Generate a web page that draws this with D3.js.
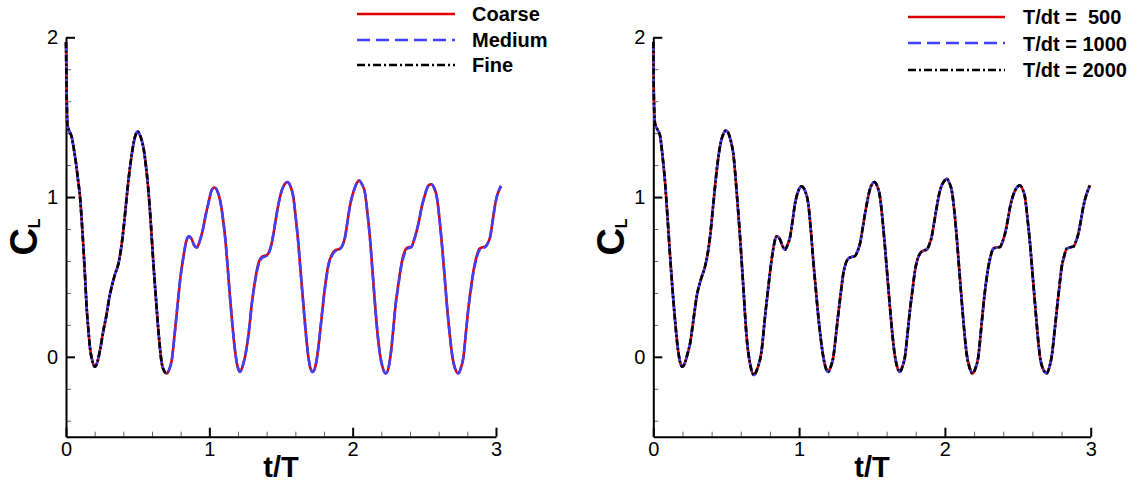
<!DOCTYPE html>
<html><head><meta charset="utf-8">
<script src="https://cdn.jsdelivr.net/npm/d3@7"></script>
<style>
body{margin:0;background:#fff;}
svg{display:block;font-family:Arial,"Liberation Sans",sans-serif;}
</style>
</head><body>
<svg id="c" width="1141" height="483"></svg>
<script>
// ---------------- data (t/T, C_L) ----------------
const xTicksMajor = [0, 1, 2, 3];
const xTicksMinor = [0.2,0.4,0.6,0.8,1.2,1.4,1.6,1.8,2.2,2.4,2.6,2.8];
const yTicksMajor = [0, 1, 2];
const yTicksMinor = [-0.4,-0.2,0.2,0.4,0.6,0.8,1.2,1.4,1.6,1.8];
const xDomain = [0, 3];
const yDomain = [-0.5, 2];

const legendLeft  = ["Coarse", "Medium", "Fine"];
const legendRight = ["T/dt =  500", "T/dt = 1000", "T/dt = 2000"];

// Left panel: grid study
const coarse = [[0,1.97],[0.005,1.62],[0.01,1.45],[0.025,1.41],[0.04,1.375],[0.055,1.30],[0.07,1.21],[0.085,1.10],[0.098,1.0],[0.11,0.85],[0.121,0.69],[0.133,0.50],[0.144,0.31],[0.156,0.17],[0.167,0.06],[0.185,-0.03],[0.202,-0.0625],[0.218,-0.035],[0.237,0.04],[0.26,0.16],[0.284,0.27],[0.30,0.36],[0.319,0.44],[0.343,0.52],[0.365,0.58],[0.383,0.67],[0.40,0.79],[0.418,0.95],[0.435,1.10],[0.453,1.23],[0.47,1.33],[0.486,1.39],[0.50,1.41],[0.515,1.39],[0.527,1.36],[0.54,1.31],[0.557,1.20],[0.575,1.04],[0.593,0.82],[0.61,0.58],[0.627,0.37],[0.644,0.17],[0.668,-0.04],[0.685,-0.09],[0.703,-0.104],[0.72,-0.08],[0.738,-0.02],[0.76,0.16],[0.784,0.375],[0.80,0.51],[0.819,0.625],[0.838,0.72],[0.858,0.754],[0.875,0.74],[0.893,0.70],[0.912,0.684],[0.935,0.73],[0.958,0.81],[0.975,0.89],[0.993,0.96],[1.015,1.04],[1.035,1.06],[1.055,1.04],[1.075,0.98],[1.093,0.88],[1.11,0.75],[1.127,0.57],[1.144,0.375],[1.162,0.19],[1.179,0.04],[1.197,-0.06],[1.214,-0.094],[1.235,-0.05],[1.261,0.06],[1.28,0.19],[1.296,0.33],[1.313,0.44],[1.331,0.54],[1.348,0.60],[1.366,0.625],[1.383,0.632],[1.40,0.636],[1.418,0.66],[1.435,0.71],[1.453,0.80],[1.47,0.896],[1.488,0.98],[1.505,1.04],[1.525,1.08],[1.544,1.094],[1.565,1.07],[1.586,1.0],[1.603,0.87],[1.621,0.71],[1.638,0.52],[1.656,0.33],[1.673,0.15],[1.691,0.0],[1.705,-0.07],[1.721,-0.094],[1.74,-0.06],[1.761,0.06],[1.778,0.20],[1.796,0.354],[1.813,0.48],[1.831,0.58],[1.855,0.64],[1.877,0.667],[1.895,0.672],[1.912,0.677],[1.93,0.70],[1.947,0.75],[1.963,0.84],[1.98,0.94],[1.998,1.01],[2.016,1.06],[2.03,1.09],[2.045,1.104],[2.065,1.08],[2.087,1.02],[2.103,0.90],[2.12,0.75],[2.138,0.54],[2.156,0.33],[2.173,0.15],[2.19,0.02],[2.21,-0.07],[2.231,-0.104],[2.25,-0.07],[2.266,0.02],[2.283,0.17],[2.30,0.33],[2.318,0.45],[2.336,0.56],[2.355,0.64],[2.373,0.677],[2.39,0.685],[2.41,0.69],[2.428,0.73],[2.447,0.79],[2.465,0.86],[2.482,0.94],[2.50,1.00],[2.517,1.05],[2.532,1.075],[2.547,1.08],[2.567,1.06],[2.587,1.0],[2.605,0.87],[2.622,0.71],[2.64,0.52],[2.657,0.33],[2.676,0.15],[2.696,0.0],[2.717,-0.08],[2.738,-0.104],[2.755,-0.07],[2.773,0.0],[2.79,0.15],[2.808,0.31],[2.825,0.43],[2.843,0.54],[2.865,0.63],[2.885,0.677],[2.905,0.686],[2.924,0.69],[2.942,0.71],[2.959,0.75],[2.975,0.84],[2.99,0.93],[3.005,1.0],[3.02,1.04],[3.035,1.07]];

const medium = [[0,1.97],[0.005,1.62],[0.01,1.45],[0.025,1.41],[0.04,1.375],[0.055,1.30],[0.07,1.21],[0.085,1.10],[0.098,1.0],[0.11,0.85],[0.121,0.69],[0.133,0.50],[0.144,0.31],[0.156,0.17],[0.167,0.06],[0.185,-0.03],[0.202,-0.0625],[0.218,-0.035],[0.237,0.04],[0.26,0.16],[0.284,0.27],[0.30,0.36],[0.319,0.44],[0.343,0.52],[0.365,0.58],[0.383,0.67],[0.40,0.79],[0.418,0.95],[0.435,1.10],[0.453,1.23],[0.47,1.33],[0.486,1.39],[0.50,1.41],[0.515,1.39],[0.527,1.36],[0.54,1.31],[0.557,1.20],[0.575,1.04],[0.593,0.82],[0.61,0.58],[0.627,0.37],[0.644,0.17],[0.668,-0.04],[0.685,-0.09],[0.703,-0.104],[0.72,-0.08],[0.738,-0.02],[0.76,0.16],[0.784,0.375],[0.80,0.51],[0.819,0.625],[0.838,0.72],[0.858,0.754],[0.875,0.74],[0.893,0.70],[0.912,0.684],[0.935,0.73],[0.958,0.81],[0.975,0.89],[0.993,0.96],[1.015,1.04],[1.035,1.06],[1.055,1.04],[1.075,0.98],[1.093,0.88],[1.11,0.75],[1.127,0.57],[1.144,0.375],[1.162,0.19],[1.179,0.04],[1.197,-0.06],[1.214,-0.094],[1.235,-0.05],[1.261,0.06],[1.28,0.19],[1.296,0.33],[1.313,0.44],[1.331,0.53],[1.348,0.59],[1.366,0.618],[1.383,0.626],[1.40,0.632],[1.418,0.655],[1.435,0.71],[1.453,0.80],[1.47,0.896],[1.488,0.98],[1.505,1.04],[1.525,1.08],[1.544,1.094],[1.565,1.07],[1.586,1.0],[1.603,0.87],[1.621,0.71],[1.638,0.52],[1.656,0.33],[1.673,0.15],[1.691,0.0],[1.705,-0.07],[1.721,-0.094],[1.74,-0.06],[1.761,0.06],[1.778,0.20],[1.796,0.354],[1.813,0.47],[1.831,0.57],[1.855,0.632],[1.877,0.66],[1.895,0.667],[1.912,0.674],[1.93,0.70],[1.947,0.75],[1.963,0.84],[1.98,0.94],[1.998,1.01],[2.016,1.06],[2.03,1.09],[2.045,1.104],[2.065,1.08],[2.087,1.02],[2.103,0.90],[2.12,0.75],[2.138,0.54],[2.156,0.33],[2.173,0.15],[2.19,0.02],[2.21,-0.07],[2.231,-0.104],[2.25,-0.07],[2.266,0.02],[2.283,0.17],[2.30,0.33],[2.318,0.44],[2.336,0.55],[2.355,0.625],[2.373,0.668],[2.39,0.68],[2.41,0.686],[2.428,0.73],[2.447,0.79],[2.465,0.86],[2.482,0.94],[2.50,1.00],[2.517,1.05],[2.532,1.075],[2.547,1.08],[2.567,1.06],[2.587,1.0],[2.605,0.87],[2.622,0.71],[2.64,0.52],[2.657,0.33],[2.676,0.15],[2.696,0.0],[2.717,-0.08],[2.738,-0.104],[2.755,-0.07],[2.773,0.0],[2.79,0.15],[2.808,0.31],[2.825,0.42],[2.843,0.53],[2.865,0.62],[2.885,0.668],[2.905,0.68],[2.924,0.686],[2.942,0.71],[2.959,0.75],[2.975,0.84],[2.99,0.93],[3.005,1.0],[3.02,1.04],[3.035,1.07]];

const fine = [[0,1.97],[0.005,1.62],[0.01,1.45],[0.025,1.41],[0.04,1.375],[0.055,1.30],[0.07,1.21],[0.085,1.10],[0.098,1.0],[0.11,0.85],[0.121,0.69],[0.133,0.50],[0.144,0.31],[0.156,0.17],[0.167,0.06],[0.185,-0.03],[0.202,-0.0625],[0.218,-0.035],[0.237,0.04],[0.26,0.16],[0.284,0.27],[0.30,0.36],[0.319,0.44],[0.343,0.52],[0.365,0.58],[0.383,0.67],[0.40,0.79],[0.418,0.95],[0.435,1.10],[0.453,1.23],[0.47,1.33],[0.486,1.39],[0.50,1.41],[0.515,1.39],[0.527,1.36],[0.54,1.31],[0.557,1.20],[0.575,1.04],[0.593,0.82],[0.61,0.58],[0.627,0.37],[0.644,0.17],[0.668,-0.04],[0.685,-0.09],[0.703,-0.104],[0.712,-0.098]];

// Right panel: time-step study
const dt500 = [[0,1.97],[0.004,1.62],[0.012,1.46],[0.03,1.42],[0.046,1.385],[0.063,1.26],[0.08,1.10],[0.097,0.88],[0.114,0.646],[0.131,0.43],[0.149,0.23],[0.166,0.07],[0.183,-0.03],[0.200,-0.0625],[0.216,-0.04],[0.235,0.02],[0.252,0.083],[0.275,0.23],[0.297,0.375],[0.325,0.48],[0.354,0.5625],[0.372,0.64],[0.389,0.75],[0.412,0.96],[0.435,1.167],[0.458,1.32],[0.48,1.395],[0.499,1.417],[0.515,1.40],[0.532,1.35],[0.549,1.27],[0.572,1.03],[0.595,0.75],[0.618,0.43],[0.64,0.125],[0.665,-0.05],[0.690,-0.114],[0.715,-0.07],[0.743,0.04],[0.765,0.24],[0.789,0.4375],[0.815,0.63],[0.846,0.754],[0.869,0.735],[0.888,0.69],[0.903,0.671],[0.92,0.70],[0.938,0.75],[0.955,0.85],[0.972,0.958],[0.995,1.04],[1.018,1.067],[1.04,1.04],[1.063,0.958],[1.08,0.80],[1.097,0.604],[1.115,0.42],[1.132,0.25],[1.149,0.11],[1.166,0.0],[1.183,-0.07],[1.2,-0.094],[1.218,-0.06],[1.235,0.0],[1.252,0.13],[1.269,0.27],[1.286,0.40],[1.303,0.52],[1.32,0.585],[1.337,0.615],[1.36,0.625],[1.383,0.63],[1.40,0.66],[1.418,0.71],[1.435,0.80],[1.452,0.896],[1.469,0.98],[1.486,1.05],[1.50,1.08],[1.516,1.094],[1.535,1.07],[1.555,1.0],[1.572,0.86],[1.589,0.6875],[1.606,0.50],[1.623,0.3125],[1.64,0.14],[1.658,0.0],[1.675,-0.07],[1.692,-0.094],[1.709,-0.06],[1.726,0.0],[1.743,0.14],[1.760,0.29],[1.778,0.42],[1.795,0.54],[1.812,0.61],[1.829,0.646],[1.852,0.665],[1.875,0.671],[1.892,0.70],[1.909,0.75],[1.926,0.84],[1.944,0.9375],[1.961,1.02],[1.978,1.073],[1.995,1.10],[2.012,1.115],[2.03,1.09],[2.047,1.04],[2.064,0.92],[2.081,0.75],[2.098,0.55],[2.115,0.354],[2.132,0.17],[2.149,0.02],[2.17,-0.07],[2.19,-0.104],[2.21,-0.07],[2.229,0.0],[2.246,0.15],[2.263,0.3125],[2.28,0.45],[2.298,0.5625],[2.315,0.635],[2.332,0.677],[2.355,0.684],[2.378,0.6875],[2.395,0.72],[2.412,0.77],[2.43,0.85],[2.447,0.9375],[2.464,1.0],[2.481,1.04],[2.498,1.065],[2.515,1.073],[2.532,1.05],[2.549,1.0],[2.566,0.87],[2.584,0.708],[2.601,0.52],[2.618,0.333],[2.635,0.15],[2.652,0.0],[2.675,-0.08],[2.698,-0.104],[2.715,-0.07],[2.732,0.0],[2.75,0.14],[2.767,0.29],[2.784,0.43],[2.801,0.5625],[2.818,0.63],[2.835,0.677],[2.858,0.686],[2.881,0.69],[2.898,0.72],[2.915,0.77],[2.932,0.85],[2.949,0.9375],[2.972,1.02],[2.995,1.073]];

const dt1000 = [[0,1.97],[0.004,1.62],[0.012,1.46],[0.03,1.42],[0.046,1.385],[0.063,1.26],[0.08,1.10],[0.097,0.88],[0.114,0.646],[0.131,0.43],[0.149,0.23],[0.166,0.07],[0.183,-0.03],[0.200,-0.0625],[0.216,-0.04],[0.235,0.02],[0.252,0.083],[0.275,0.23],[0.297,0.375],[0.325,0.48],[0.354,0.5625],[0.372,0.64],[0.389,0.75],[0.412,0.96],[0.435,1.167],[0.458,1.32],[0.48,1.395],[0.499,1.417],[0.515,1.40],[0.532,1.35],[0.549,1.27],[0.572,1.03],[0.595,0.75],[0.618,0.43],[0.64,0.125],[0.665,-0.05],[0.690,-0.114],[0.715,-0.07],[0.743,0.04],[0.765,0.24],[0.789,0.4375],[0.815,0.63],[0.846,0.754],[0.869,0.735],[0.888,0.69],[0.903,0.671],[0.92,0.70],[0.938,0.75],[0.955,0.85],[0.972,0.958],[0.995,1.04],[1.018,1.067],[1.04,1.04],[1.063,0.958],[1.08,0.80],[1.097,0.604],[1.115,0.42],[1.132,0.25],[1.149,0.11],[1.166,0.0],[1.183,-0.07],[1.2,-0.094],[1.218,-0.06],[1.235,0.0],[1.252,0.13],[1.269,0.27],[1.286,0.40],[1.303,0.52],[1.32,0.585],[1.337,0.615],[1.36,0.625],[1.383,0.63],[1.40,0.66],[1.418,0.71],[1.435,0.80],[1.452,0.896],[1.469,0.98],[1.486,1.05],[1.50,1.08],[1.516,1.094],[1.535,1.07],[1.555,1.0],[1.572,0.86],[1.589,0.6875],[1.606,0.50],[1.623,0.3125],[1.64,0.14],[1.658,0.0],[1.675,-0.07],[1.692,-0.094],[1.709,-0.06],[1.726,0.0],[1.743,0.14],[1.760,0.29],[1.778,0.42],[1.795,0.54],[1.812,0.61],[1.829,0.646],[1.852,0.665],[1.875,0.671],[1.892,0.70],[1.909,0.75],[1.926,0.84],[1.944,0.9375],[1.961,1.02],[1.978,1.073],[1.995,1.10],[2.012,1.115],[2.03,1.09],[2.047,1.04],[2.064,0.92],[2.081,0.75],[2.098,0.55],[2.115,0.354],[2.132,0.17],[2.149,0.02],[2.17,-0.07],[2.19,-0.104],[2.21,-0.07],[2.229,0.0],[2.246,0.15],[2.263,0.3125],[2.28,0.45],[2.298,0.5625],[2.315,0.635],[2.332,0.677],[2.355,0.684],[2.378,0.6875],[2.395,0.72],[2.412,0.77],[2.43,0.85],[2.447,0.9375],[2.464,1.0],[2.481,1.04],[2.498,1.065],[2.515,1.073],[2.532,1.05],[2.549,1.0],[2.566,0.87],[2.584,0.708],[2.601,0.52],[2.618,0.333],[2.635,0.15],[2.652,0.0],[2.675,-0.08],[2.698,-0.104],[2.715,-0.07],[2.732,0.0],[2.75,0.14],[2.767,0.29],[2.784,0.43],[2.801,0.5625],[2.818,0.63],[2.835,0.677],[2.858,0.686],[2.881,0.69],[2.898,0.72],[2.915,0.77],[2.932,0.85],[2.949,0.9375],[2.972,1.02],[2.995,1.073]];

const dt2000 = [[0,1.97],[0.004,1.62],[0.012,1.46],[0.03,1.42],[0.046,1.385],[0.063,1.26],[0.08,1.10],[0.097,0.88],[0.114,0.646],[0.131,0.43],[0.149,0.23],[0.166,0.07],[0.183,-0.03],[0.200,-0.0625],[0.216,-0.04],[0.235,0.02],[0.252,0.083],[0.275,0.23],[0.297,0.375],[0.325,0.48],[0.354,0.5625],[0.372,0.64],[0.389,0.75],[0.412,0.96],[0.435,1.167],[0.458,1.32],[0.48,1.395],[0.499,1.417],[0.515,1.40],[0.532,1.35],[0.549,1.27],[0.572,1.03],[0.595,0.75],[0.618,0.43],[0.64,0.125],[0.665,-0.05],[0.690,-0.114],[0.715,-0.07],[0.743,0.04],[0.765,0.24],[0.789,0.4375],[0.815,0.63],[0.846,0.754],[0.869,0.735],[0.888,0.69],[0.903,0.671],[0.92,0.70],[0.938,0.75],[0.955,0.85],[0.972,0.958],[0.995,1.04],[1.018,1.067],[1.04,1.04],[1.063,0.958],[1.08,0.80],[1.097,0.604],[1.115,0.42],[1.132,0.25],[1.149,0.11],[1.166,0.0],[1.183,-0.07],[1.2,-0.094],[1.218,-0.06],[1.235,0.0],[1.252,0.13],[1.269,0.27],[1.286,0.40],[1.303,0.52],[1.32,0.585],[1.337,0.615],[1.36,0.625],[1.383,0.63],[1.40,0.66],[1.418,0.71],[1.435,0.80],[1.452,0.896],[1.469,0.98],[1.486,1.05],[1.50,1.08],[1.516,1.094],[1.535,1.07],[1.555,1.0],[1.572,0.86],[1.589,0.6875],[1.606,0.50],[1.623,0.3125],[1.64,0.14],[1.658,0.0],[1.675,-0.07],[1.692,-0.094],[1.709,-0.06],[1.726,0.0],[1.743,0.14],[1.760,0.29],[1.778,0.42],[1.795,0.54],[1.812,0.61],[1.829,0.646],[1.852,0.665],[1.875,0.671],[1.892,0.70],[1.909,0.75],[1.926,0.84],[1.944,0.9375],[1.961,1.02],[1.978,1.073],[1.995,1.10],[2.012,1.115],[2.03,1.09],[2.047,1.04],[2.064,0.92],[2.081,0.75],[2.098,0.55],[2.115,0.354],[2.132,0.17],[2.149,0.02],[2.17,-0.07],[2.19,-0.104],[2.21,-0.07],[2.229,0.0],[2.246,0.15],[2.263,0.3125],[2.28,0.45],[2.298,0.5625],[2.315,0.635],[2.332,0.677],[2.355,0.684],[2.378,0.6875],[2.395,0.72],[2.412,0.77],[2.43,0.85],[2.447,0.9375],[2.464,1.0],[2.481,1.04],[2.498,1.065],[2.515,1.073],[2.532,1.05],[2.549,1.0],[2.566,0.87],[2.584,0.708],[2.601,0.52],[2.618,0.333],[2.635,0.15],[2.652,0.0],[2.675,-0.08],[2.698,-0.104],[2.715,-0.07],[2.732,0.0],[2.75,0.14],[2.767,0.29],[2.784,0.43],[2.801,0.5625],[2.818,0.63],[2.835,0.677],[2.858,0.686],[2.881,0.69],[2.898,0.72],[2.915,0.77],[2.932,0.85],[2.949,0.9375],[2.972,1.02],[2.995,1.073]];

// ---------------- drawing ----------------
const RED = "#e00000", BLUE = "#4040ff", BLACK = "#000";
const styles = [
  {color: RED,   dash: null,       ldash: null},
  {color: BLUE,  dash: "9,3",      ldash: "13,6"},
  {color: BLACK, dash: "6,2.5,2,2.5", ldash: "8,3,2,3"}
];

const svg = d3.select("#c");
const yTop = 37.3, yBot = 436.7;

const panels = [
  {x0: 66, x1: 496, series: [coarse, medium, fine], labels: legendLeft,
   leg: {x0: 357, x1: 455, tx: 472, ly: [14, 40, 65], ty: [21, 47, 72]}},
  {x0: 653.3, x1: 1090.7, series: [dt500, dt1000, dt2000], labels: legendRight,
   leg: {x0: 908, x1: 1005, tx: 1023, ly: [17, 43, 70], ty: [24, 51, 77]}}
];

panels.forEach(p => {
  const x = d3.scaleLinear().domain(xDomain).range([p.x0, p.x1]);
  const y = d3.scaleLinear().domain(yDomain).range([yBot, yTop]);
  const g = svg.append("g");

  // minor ticks
  g.append("g").attr("transform", `translate(${p.x0},0)`)
    .call(d3.axisLeft(y).tickValues(yTicksMinor).tickSize(-5).tickFormat(""))
    .call(s => { s.select(".domain").remove(); s.selectAll("line").attr("stroke", "#666").attr("stroke-width", 1); });
  g.append("g").attr("transform", `translate(0,${yBot})`)
    .call(d3.axisBottom(x).tickValues(xTicksMinor).tickSize(-5).tickFormat(""))
    .call(s => { s.select(".domain").remove(); s.selectAll("line").attr("stroke", "#666").attr("stroke-width", 1); });

  // major axes
  g.append("g").attr("transform", `translate(${p.x0},0)`)
    .call(d3.axisLeft(y).tickValues(yTicksMajor).tickSize(-9).tickSizeOuter(0).tickPadding(8).tickFormat(d3.format("d")))
    .call(s => {
      s.select(".domain").attr("stroke", "#000").attr("stroke-width", 2);
      s.selectAll(".tick line").attr("stroke", "#000").attr("stroke-width", 2);
      s.selectAll("text").attr("font-size", 20).attr("font-family", "Arial, 'Liberation Sans', sans-serif").attr("fill", "#000");
    });
  g.append("g").attr("transform", `translate(0,${yBot})`)
    .call(d3.axisBottom(x).tickValues(xTicksMajor).tickSize(-9).tickSizeOuter(0).tickPadding(5).tickFormat(d3.format("d")))
    .call(s => {
      s.select(".domain").attr("stroke", "#000").attr("stroke-width", 2);
      s.selectAll(".tick line").attr("stroke", "#000").attr("stroke-width", 2);
      s.selectAll("text").attr("font-size", 20).attr("font-family", "Arial, 'Liberation Sans', sans-serif").attr("fill", "#000");
    });

  // curves
  const line = d3.line().x(d => x(d[0])).y(d => y(d[1])).curve(d3.curveMonotoneX);
  p.series.forEach((s, i) => {
    g.append("path").datum(s)
      .attr("d", line)
      .attr("fill", "none")
      .attr("stroke", styles[i].color)
      .attr("stroke-width", 2.6)
      .attr("stroke-linejoin", "round")
      .attr("stroke-dasharray", styles[i].dash);
  });

  // axis titles
  const cx = (p.x0 + p.x1) / 2;
  g.append("text").attr("x", cx).attr("y", 477)
    .attr("text-anchor", "middle").attr("font-size", 29).attr("font-weight", "bold")
    .text("t/T");
  const yl = g.append("text")
    .attr("transform", `translate(${p.x0 - 29},${(yTop + yBot) / 2}) rotate(-90)`)
    .attr("text-anchor", "middle").attr("font-weight", "bold");
  yl.append("tspan").attr("font-size", 38).text("C");
  yl.append("tspan").attr("font-size", 16).attr("dy", 3).text("L");

  // legend
  p.labels.forEach((lab, i) => {
    g.append("line")
      .attr("x1", p.leg.x0).attr("x2", p.leg.x1)
      .attr("y1", p.leg.ly[i]).attr("y2", p.leg.ly[i])
      .attr("stroke", styles[i].color).attr("stroke-width", 2.4)
      .attr("stroke-dasharray", styles[i].ldash);
    g.append("text").attr("x", p.leg.tx).attr("y", p.leg.ty[i])
      .attr("font-size", 20).attr("font-weight", "bold")
      .style("white-space", "pre")
      .text(lab);
  });
});
</script>
</body></html>
